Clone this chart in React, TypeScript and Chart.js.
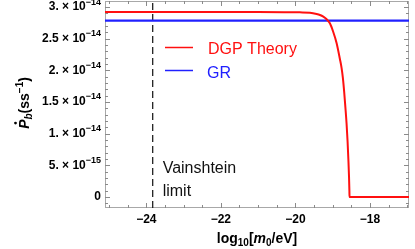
import React, { useEffect, useRef } from 'react';
import { Chart, registerables } from 'chart.js';

Chart.register(...registerables);

// ---- data ----
const dgpX = [-25.11, -21.0, -20.3, -19.88, -19.61, -19.43, -19.34, -19.25, -19.16, -19.074, -18.985, -18.894, -18.805, -18.76, -18.725, -18.69, -18.658, -18.626, -18.599, -18.575, -18.56, -18.55, -18.547, -16.95];
const dgpY = [2.92e-14, 2.92e-14, 2.919e-14, 2.916e-14, 2.91e-14, 2.89e-14, 2.874e-14, 2.847e-14, 2.806e-14, 2.743e-14, 2.61e-14, 2.432e-14, 2.18e-14, 2.04e-14, 1.88e-14, 1.66e-14, 1.42e-14, 1.16e-14, 0.88e-14, 0.56e-14, 0.32e-14, 0.1e-14, 0, 0];
const grX = [-25.11, -16.95];
const grY = [2.785e-14, 2.785e-14];
const vainshteinX = -23.83;
const xMin = -25.11;
const xMax = -16.95;
const yMin = -1.737e-15;
const yMax = 3.095e-14;
const seriesLabels = ['DGP Theory', 'GR'];
const seriesColors = ['#ff1010', '#2020ff'];
const xTickValues = [-24, -22, -20, -18];
const xTickLabels = ['\u221224', '\u221222', '\u221220', '\u221218'];
const xMinorStep = 0.5;
const yTickValues = [0, 5e-15, 1e-14, 1.5e-14, 2e-14, 2.5e-14, 3e-14];
const yTickLabels = ['0', '5. \u00d7 10^\u221215', '1. \u00d7 10^\u221214', '1.5 \u00d7 10^\u221214', '2. \u00d7 10^\u221214', '2.5 \u00d7 10^\u221214', '3. \u00d7 10^\u221214'];
const yMinorStep = 1e-15;
const annotationLines = ['Vainshtein', 'limit'];

const FONT = '"Liberation Sans", Arial, sans-serif';

const overlay = {
  id: 'overlay',
  beforeDatasetsDraw(chart: any) {
    const { ctx, chartArea: a, scales } = chart;
    const x = scales.x;
    const y = scales.y;
    ctx.save();
    // frame
    ctx.strokeStyle = '#a8a8a8';
    ctx.lineWidth = 1;
    ctx.strokeRect(a.left + 0.5, a.top + 0.5, a.right - a.left - 1, a.bottom - a.top - 1);
    // ticks
    ctx.strokeStyle = '#8a8a8a';
    ctx.beginPath();
    const isMajorX = (v: number) => xTickValues.some((t) => Math.abs(t - v) < 1e-6);
    for (let v = Math.ceil(xMin / xMinorStep) * xMinorStep; v <= xMax + 1e-9; v += xMinorStep) {
      const px = Math.round(x.getPixelForValue(v)) + 0.5;
      const len = isMajorX(v) ? 5 : 3;
      ctx.moveTo(px, a.bottom);
      ctx.lineTo(px, a.bottom - len);
      ctx.moveTo(px, a.top);
      ctx.lineTo(px, a.top + len);
    }
    const isMajorY = (v: number) => yTickValues.some((t) => Math.abs(t - v) < 1e-20);
    for (let i = Math.ceil(yMin / yMinorStep); i * yMinorStep <= yMax; i++) {
      const v = i * yMinorStep;
      const py = Math.round(y.getPixelForValue(v)) + 0.5;
      const len = isMajorY(v) ? 5 : 3;
      ctx.moveTo(a.left, py);
      ctx.lineTo(a.left + len, py);
      ctx.moveTo(a.right, py);
      ctx.lineTo(a.right - len, py);
    }
    ctx.stroke();
    ctx.restore();
  },
  afterDatasetsDraw(chart: any) {
    const { ctx, chartArea: a, scales } = chart;
    const x = scales.x;
    const y = scales.y;
    ctx.save();
    ctx.fillStyle = '#000';
    // y tick labels
    const mainFont = `bold 12px ${FONT}`;
    const expFont = `bold 9px ${FONT}`;
    ctx.textBaseline = 'middle';
    yTickValues.forEach((v, i) => {
      const py = y.getPixelForValue(v);
      const [base, exp] = yTickLabels[i].split('^');
      ctx.font = mainFont;
      const wb = ctx.measureText(base).width;
      ctx.font = expFont;
      const we = exp ? ctx.measureText(exp).width : 0;
      const right = a.left - 4;
      ctx.font = mainFont;
      ctx.textAlign = 'left';
      ctx.fillText(base, right - wb - we, py);
      if (exp) {
        ctx.font = expFont;
        ctx.fillText(exp, right - we, py - 5);
      }
    });
    // x tick labels
    ctx.font = mainFont;
    ctx.textAlign = 'center';
    ctx.textBaseline = 'middle';
    xTickValues.forEach((v, i) => {
      ctx.fillText(xTickLabels[i], x.getPixelForValue(v), a.bottom + 12);
    });
    // x title: log10[m0/eV]
    const segsX: [string, string, number][] = [
      ['log', `bold 14px ${FONT}`, 0],
      ['10', `bold 10px ${FONT}`, 3],
      ['[', `bold 14px ${FONT}`, 0],
      ['m', `italic bold 14px ${FONT}`, 0],
      ['0', `bold 10px ${FONT}`, 3],
      ['/eV]', `bold 14px ${FONT}`, 0],
    ];
    ctx.textAlign = 'left';
    ctx.textBaseline = 'alphabetic';
    let total = 0;
    segsX.forEach(([t, f]) => { ctx.font = f; total += ctx.measureText(t).width; });
    let cx = (a.left + a.right) / 2 - total / 2;
    const baseX = 243;
    segsX.forEach(([t, f, dy]) => {
      ctx.font = f;
      ctx.fillText(t, cx, baseX + dy);
      cx += ctx.measureText(t).width;
    });
    // y title: Pdot_b(ss^-1)
    ctx.save();
    ctx.translate(29, 103);
    ctx.rotate(-Math.PI / 2);
    const segsY: [string, string, number][] = [
      ['P', `italic bold 14px ${FONT}`, 0],
      ['b', `italic bold 10px ${FONT}`, 3],
      ['(ss', `bold 14px ${FONT}`, 0],
      ['\u22121', `bold 10px ${FONT}`, -6],
      [')', `bold 14px ${FONT}`, 0],
    ];
    total = 0;
    segsY.forEach(([t, f]) => { ctx.font = f; total += ctx.measureText(t).width; });
    cx = -total / 2;
    segsY.forEach(([t, f, dy], i) => {
      ctx.font = f;
      ctx.fillText(t, cx, dy);
      const w = ctx.measureText(t).width;
      if (i === 0) {
        // dot above P
        ctx.beginPath();
        ctx.arc(cx + w * 0.62, -13.5, 1.4, 0, Math.PI * 2);
        ctx.fill();
      }
      cx += w;
    });
    ctx.restore();
    // legend
    ctx.lineWidth = 1.5;
    ctx.font = `16px ${FONT}`;
    ctx.textBaseline = 'middle';
    const legendRows = [[47, 50], [70, 74]];
    seriesLabels.forEach((lab, i) => {
      ctx.strokeStyle = seriesColors[i];
      ctx.beginPath();
      ctx.moveTo(165, legendRows[i][0] + 0.5);
      ctx.lineTo(193, legendRows[i][0] + 0.5);
      ctx.stroke();
      ctx.fillStyle = seriesColors[i];
      ctx.fillText(lab, i === 0 ? 208 : 207, legendRows[i][1]);
    });
    // annotation
    ctx.fillStyle = '#111';
    ctx.font = `16px ${FONT}`;
    annotationLines.forEach((t, i) => {
      ctx.fillText(t, x.getPixelForValue(vainshteinX) + 10, 169 + i * 23);
    });
    ctx.restore();
  },
};

export default function App() {
  const ref = useRef<HTMLCanvasElement>(null);
  useEffect(() => {
    if (!ref.current) return;
    const chart = new Chart(ref.current, {
      type: 'line',
      data: {
        datasets: [
          {
            label: seriesLabels[0],
            data: dgpX.map((v, i) => ({ x: v, y: dgpY[i] })),
            borderColor: seriesColors[0],
            borderWidth: 2,
            pointRadius: 0,
            cubicInterpolationMode: 'monotone',
            fill: false,
          },
          {
            label: seriesLabels[1],
            data: grX.map((v, i) => ({ x: v, y: grY[i] })),
            borderColor: seriesColors[1],
            borderWidth: 2.2,
            pointRadius: 0,
            fill: false,
          },
          {
            label: 'Vainshtein limit',
            data: [{ x: vainshteinX, y: yMin }, { x: vainshteinX, y: yMax }],
            borderColor: '#222',
            borderWidth: 1.3,
            borderDash: [7, 4],
            pointRadius: 0,
            fill: false,
          },
        ],
      },
      options: {
        animation: false,
        responsive: false,
        devicePixelRatio: 1,
        layout: { padding: { left: 105, right: 6, top: 1, bottom: 41 } },
        plugins: { legend: { display: false }, tooltip: { enabled: false } },
        scales: {
          x: { type: 'linear', min: xMin, max: xMax, display: false },
          y: { type: 'linear', min: yMin, max: yMax, display: false },
        },
      },
      plugins: [overlay],
    } as any);
    return () => chart.destroy();
  }, []);
  return (
    <div style={{ position: 'fixed', left: 0, top: 0, width: 415, height: 249, background: '#fff' }}>
      <canvas ref={ref} width={415} height={249} style={{ display: 'block' }} />
    </div>
  );
}
